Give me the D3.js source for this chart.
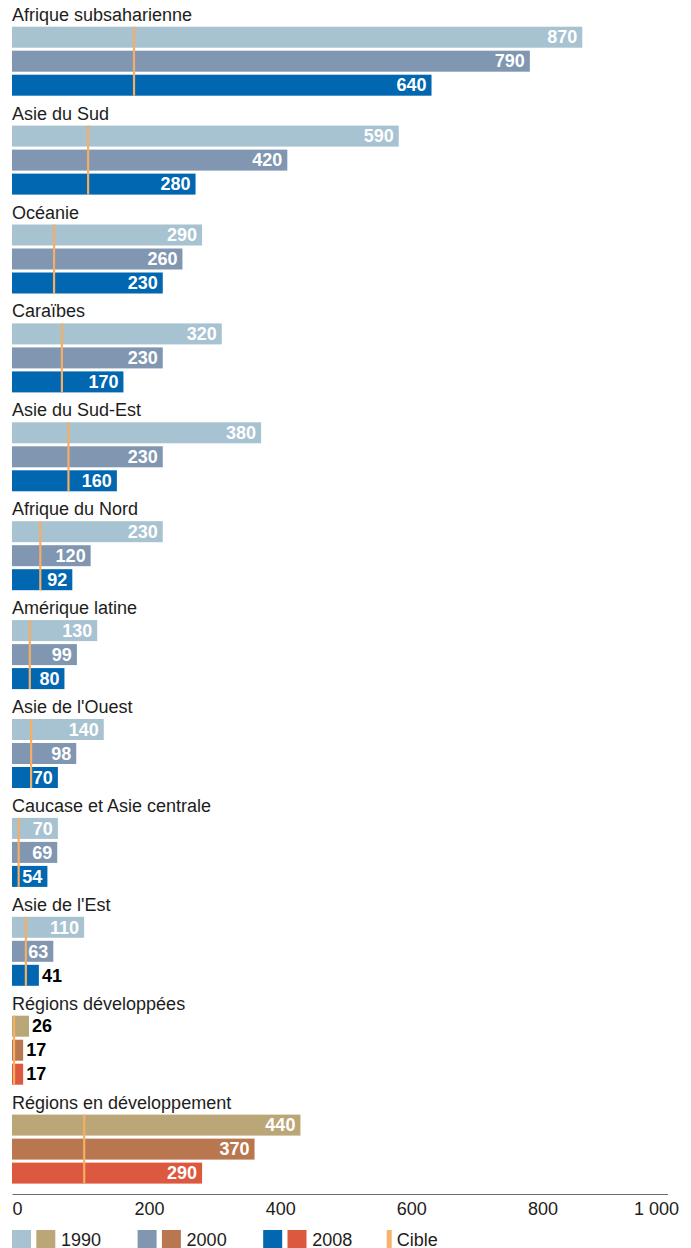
<!DOCTYPE html>
<html><head><meta charset="utf-8">
<script src="https://cdn.jsdelivr.net/npm/d3@7"></script>
<style>
body{margin:0;background:#fff;}
text{font-family:"Liberation Sans",Arial,sans-serif;}
</style></head>
<body><svg id="c" width="691" height="1248"></svg>
<script>
const categories = ["Afrique subsaharienne","Asie du Sud","Océanie","Caraïbes","Asie du Sud-Est","Afrique du Nord","Amérique latine","Asie de l'Ouest","Caucase et Asie centrale","Asie de l'Est","Régions développées","Régions en développement"];
const years = ["1990","2000","2008"];
const v1990 = [870,590,290,320,380,230,130,140,70,110,26,440];
const v2000 = [790,420,260,230,230,120,99,98,69,63,17,370];
const v2008 = [640,280,230,170,160,92,80,70,54,41,17,290];
const target = [186,116,64,76,86,43,27,29,10,21,3,110];
const tickValues = [0,200,400,600,800,1000];
const tickLabels = ["0","200","400","600","800","1 000"];
const targetLabel = "Cible";
const coloursRegion = ["#a7c2d0","#8096b1","#0067b0"];
const coloursAggregate = ["#bba678","#b9774f","#dc5940"];
const aggregates = ["Régions développées","Régions en développement"];

const series = [v1990, v2000, v2008];
const svg = d3.select("#c");
const ink = "#1d1d1b";

const x = d3.scaleLinear().domain([0,1000]).range([12, 667.5]);
const gy = d3.scaleBand().domain(categories).range([26.7, 26.7 + 12*98.9]).padding(0);
const by = d3.scaleBand().domain(years).range([0, 69]).paddingInner(0.125).paddingOuter(0);

categories.forEach((cat, i) => {
  const g = svg.append("g").attr("transform", `translate(0,${gy(cat)})`);
  const pal = aggregates.includes(cat) ? coloursAggregate : coloursRegion;
  g.append("text").attr("x", 12).attr("y", -6).attr("font-size", 18).attr("fill", ink).text(cat);
  const rows = years.map((yr, k) => ({yr, v: series[k][i], c: pal[k]}));
  g.selectAll("rect.bar").data(rows).enter().append("rect")
    .attr("x", x(0)).attr("y", d => by(d.yr))
    .attr("width", d => x(d.v) - x(0)).attr("height", by.bandwidth())
    .attr("fill", d => d.c);
  g.append("rect")
    .attr("x", x(target[i]) - 1).attr("y", by(years[0]))
    .attr("width", 2.2).attr("height", by(years[2]) + by.bandwidth() - by(years[0]))
    .attr("fill", "#f7ad62");
  g.selectAll("text.val").data(rows).enter().append("text")
    .attr("font-size", 18).attr("font-weight", "bold")
    .attr("y", d => by(d.yr) + by.bandwidth()/2).attr("dy", "0.35em")
    .each(function(d){
      const t = d3.select(this).text(d.v);
      const w = this.getComputedTextLength();
      const bw = x(d.v) - x(0);
      if (bw >= w + 10) {
        t.attr("x", x(d.v) - 5).attr("text-anchor", "end").attr("fill", "#fff");
      } else {
        t.attr("x", x(d.v) + 3).attr("text-anchor", "start").attr("fill", "#000");
      }
    });
});

// axis
const axis = d3.axisBottom(x).tickValues(tickValues).tickSize(0).tickSizeOuter(0)
  .tickFormat((d, i) => tickLabels[i]);
const ag = svg.append("g").attr("transform", "translate(0,1194)").call(axis);
ag.select(".domain").attr("stroke", "#6b6b6b").attr("stroke-width", 1.2);
ag.selectAll(".tick text")
  .attr("font-family", "'Liberation Sans',Arial,sans-serif")
  .attr("font-size", 18).attr("fill", ink)
  .attr("y", 21).attr("dy", 0)
  .attr("text-anchor", (d, i) => i === 0 ? "start" : (i === tickValues.length-1 ? "end" : "middle"))
  .attr("dx", (d, i) => i === 0 ? 0 : (i === tickValues.length-1 ? 11 : 6));

// legend
const lg = svg.append("g").attr("transform", "translate(0,1230)");
years.forEach((yr, k) => {
  const x0 = 12 + k*125.6;
  lg.append("rect").attr("x", x0).attr("y", 0).attr("width", 19).attr("height", 18).attr("fill", coloursRegion[k]);
  lg.append("rect").attr("x", x0 + 24.3).attr("y", 0).attr("width", 19).attr("height", 18).attr("fill", coloursAggregate[k]);
  lg.append("text").attr("x", x0 + 49).attr("y", 16).attr("font-size", 18).attr("fill", ink).text(yr);
});
lg.append("rect").attr("x", 386.7).attr("y", 0).attr("width", 5).attr("height", 18).attr("fill", "#f9b26c");
lg.append("text").attr("x", 396.7).attr("y", 16).attr("font-size", 18).attr("fill", ink).text(targetLabel);
</script></body></html>
